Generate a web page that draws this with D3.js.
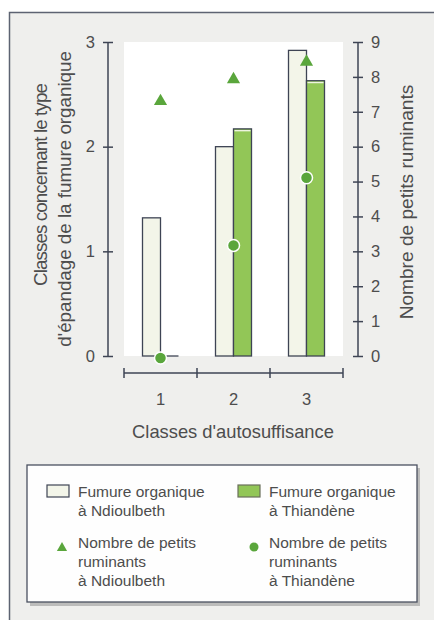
<!DOCTYPE html>
<html><head><meta charset="utf-8">
<script src="https://cdn.jsdelivr.net/npm/d3@7/dist/d3.min.js"></script>
<style>html,body{margin:0;padding:0;background:#fff}svg{display:block}</style>
</head><body><svg id="c" width="434" height="620"></svg>
<script>
const categories = ["1", "2", "3"];
const fumureNdioulbeth = [1.32, 2.0, 2.92];
const fumureThiandene = [0, 2.17, 2.63];
const ruminantsNdioulbeth = [7.3, 7.93, 8.43];
const ruminantsThiandene = [0, 3.17, 5.11];
const leftTicks = [0, 1, 2, 3];
const rightTicks = [0, 1, 2, 3, 4, 5, 6, 7, 8, 9];

const svg = d3.select("#c");
const font = "Liberation Sans, Arial, sans-serif";
const txt = "#4d4d4d", ax = "#3e4454";
const lightFill = "#f3f5e9", greenFill = "#92c657", dotGreen = "#5aa63c";

// outer frame
svg.append("rect").attr("x", 9.5).attr("y", 12.5).attr("width", 440).attr("height", 620)
  .attr("fill", "#efefed").attr("stroke", "#5d6372").attr("stroke-width", 1.5);

const x = d3.scaleBand().domain(categories).range([124, 343]);
const yL = d3.scaleLinear().domain([0, 3]).range([356, 42]);
const yR = d3.scaleLinear().domain([0, 9]).range([356, 42]);

// plot background
svg.append("rect").attr("x", 124).attr("y", 42).attr("width", 219).attr("height", 314).attr("fill", "#ffffff");

const bw = 18;
const g = svg.append("g");
categories.forEach((c, i) => {
  const cx = x(c) + x.bandwidth() / 2;
  g.append("rect").attr("x", cx - bw).attr("y", yL(fumureNdioulbeth[i]))
    .attr("width", bw).attr("height", yL(0) - yL(fumureNdioulbeth[i]))
    .attr("fill", lightFill).attr("stroke", ax).attr("stroke-width", 1.3);
  const h = yL(0) - yL(fumureThiandene[i]);
  if (h > 0) {
    g.append("rect").attr("x", cx).attr("y", yL(fumureThiandene[i]))
      .attr("width", bw).attr("height", h)
      .attr("fill", greenFill).attr("stroke", ax).attr("stroke-width", 1.3);
    g.append("line").attr("x1", cx + 1).attr("x2", cx + bw - 1)
      .attr("y1", yL(fumureThiandene[i]) + 1.8).attr("y2", yL(fumureThiandene[i]) + 1.8)
      .attr("stroke", "#eef4df").attr("stroke-width", 1.4);
  } else {
    g.append("line").attr("x1", cx).attr("x2", cx + bw)
      .attr("y1", yL(0)).attr("y2", yL(0)).attr("stroke", ax).attr("stroke-width", 1.3);
  }
});

// left axis
const la = svg.append("g").attr("transform", "translate(108,0)")
  .call(d3.axisLeft(yL).tickValues(leftTicks).tickFormat(d3.format("d")).tickSize(5).tickPadding(8));
la.selectAll(".tick line").attr("x1", 5).attr("x2", -5);
// right axis
const ra = svg.append("g").attr("transform", "translate(358,0)")
  .call(d3.axisRight(yR).tickValues(rightTicks).tickFormat(d3.format("d")).tickSize(5).tickPadding(8));
ra.selectAll(".tick line").attr("x1", -5).attr("x2", 5);
// x axis
const xa = svg.append("g").attr("transform", "translate(0,373)")
  .call(d3.axisBottom(x).tickSize(5).tickPadding(15));
xa.selectAll(".tick line").remove();
xa.selectAll(".tick text").attr("dy", "0.71em");
const xEdges = [124, ...categories.slice(1).map(c => x(c)), 343];
xEdges.forEach(e => xa.append("line").attr("x1", e).attr("x2", e).attr("y1", -5).attr("y2", 5).attr("stroke", ax).attr("stroke-width", 1.5));

[la, ra, xa].forEach(a => {
  a.select(".domain").attr("stroke", ax).attr("stroke-width", 1.5);
  a.selectAll(".tick line").attr("stroke", ax).attr("stroke-width", 1.5);
  a.selectAll("text").attr("fill", txt).attr("font-family", font).attr("font-size", 16.5);
});
la.select(".domain").attr("d", "M0,42V356");
ra.select(".domain").attr("d", "M0,42V356");
xa.select(".domain").attr("d", "M124,0H343");

// markers
const tri = d3.symbol().type(d3.symbolTriangle).size(75);
categories.forEach((c, i) => {
  const cx = x(c) + x.bandwidth() / 2;
  svg.append("path").attr("d", tri).attr("transform", `translate(${cx},${yR(ruminantsNdioulbeth[i])})`)
    .attr("fill", dotGreen);
  svg.append("circle").attr("cx", cx).attr("cy", yR(ruminantsThiandene[i]) + (i === 0 ? 2 : 0)).attr("r", 6)
    .attr("fill", dotGreen).attr("stroke", "#ffffff").attr("stroke-width", 1.5);
});

// axis titles (fit to measured widths)
function fitText(t, target) {
  const w = t.node().getComputedTextLength();
  const fs = +t.attr("font-size");
  if (w > 0) t.attr("font-size", (fs * target / w).toFixed(2));
}
function fitSpacing(t, target) {
  const w = t.node().getComputedTextLength();
  const n = t.text().length;
  if (w > 0) t.attr("letter-spacing", ((target - w) / n).toFixed(2));
}
const t2 = svg.append("text").attr("transform", "translate(71,199) rotate(-90)").attr("text-anchor", "middle")
  .attr("font-family", font).attr("font-size", 17).attr("fill", txt).text("d'épandage de la fumure organique");
fitText(t2, 296);
const t1 = svg.append("text").attr("transform", "translate(47,185) rotate(-90)").attr("text-anchor", "middle")
  .attr("font-family", font).attr("font-size", t2.attr("font-size")).attr("fill", txt).text("Classes concernant le type");
fitSpacing(t1, 202);
const t3 = svg.append("text").attr("transform", "translate(413,202) rotate(-90)").attr("text-anchor", "middle")
  .attr("font-family", font).attr("font-size", 17).attr("fill", txt).text("Nombre de petits ruminants");
fitText(t3, 235);
const t4 = svg.append("text").attr("x", 233).attr("y", 438).attr("text-anchor", "middle")
  .attr("font-family", font).attr("font-size", 18).attr("fill", txt).text("Classes d'autosuffisance");
fitText(t4, 202);

// legend
const legendLabels = [
  ["Fumure organique", "à Ndioulbeth"],
  ["Fumure organique", "à Thiandène"],
  ["Nombre de petits", "ruminants", "à Ndioulbeth"],
  ["Nombre de petits", "ruminants", "à Thiandène"]
];
svg.append("rect").attr("x", 30).attr("y", 468).attr("width", 390).attr("height", 138).attr("fill", "#9a9a9a").attr("opacity", 0.6);
svg.append("rect").attr("x", 27).attr("y", 465).attr("width", 390).attr("height", 137)
  .attr("fill", "#fefefe").attr("stroke", "#4a5060").attr("stroke-width", 1.3);
const lg = svg.append("g").attr("font-family", font).attr("font-size", 15.5).attr("fill", txt);
const cols = [78, 269], rows = [497, 548];
legendLabels.forEach((lines, i) => {
  const tx = cols[i % 2], ty = rows[Math.floor(i / 2)];
  lines.forEach((l, j) => lg.append("text").attr("x", tx).attr("y", ty + j * 19).text(l));
});
svg.append("rect").attr("x", 47).attr("y", 485).attr("width", 22).attr("height", 12)
  .attr("fill", lightFill).attr("stroke", ax).attr("stroke-width", 1.2);
svg.append("rect").attr("x", 238).attr("y", 485).attr("width", 22).attr("height", 12)
  .attr("fill", greenFill).attr("stroke", "#6a6f5a").attr("stroke-width", 1.2);
svg.append("path").attr("d", d3.symbol().type(d3.symbolTriangle).size(45)).attr("transform", "translate(62,548)").attr("fill", dotGreen);
svg.append("circle").attr("cx", 254).attr("cy", 547).attr("r", 4.5).attr("fill", dotGreen);
</script></body></html>
